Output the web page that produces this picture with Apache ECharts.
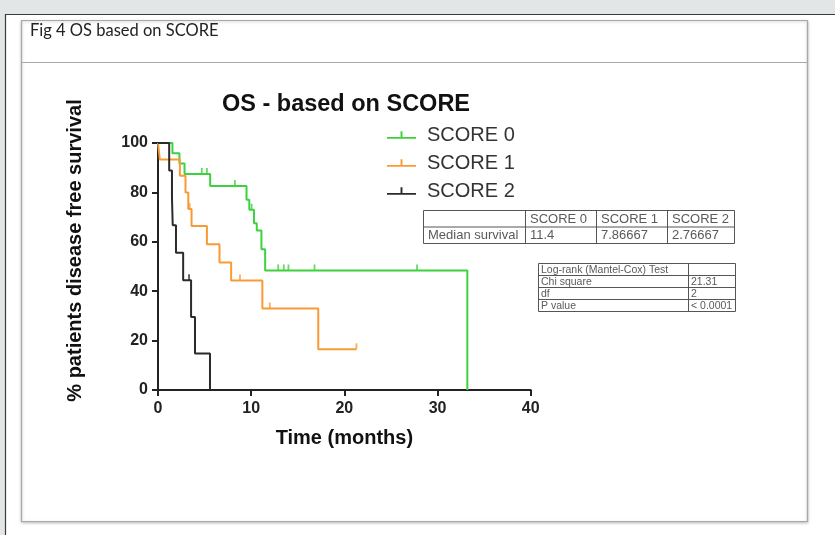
<!DOCTYPE html>
<html>
<head>
<meta charset="utf-8">
<script src="https://cdn.jsdelivr.net/npm/echarts@6/dist/echarts.min.js"></script>
<style>
  html, body { margin: 0; padding: 0; background: #fff; }
  #chart { width: 835px; height: 535px; }
</style>
</head>
<body>
<div id="chart"></div>
<script>
// Kaplan-Meier overall survival by SCORE group (time in months, survival in %)
const score0Time = [0, 1.55, 2.3, 2.85, 5.6, 9.5, 9.8, 10.3, 10.6, 11.1, 11.5, 33.2];
const score0Surv = [100, 95.8, 91.7, 87.5, 82.6, 77.0, 73.0, 67.5, 64.6, 57.0, 48.4, 0];
const score0CensorTime = [4.7, 5.25, 8.25, 10.05, 12.9, 13.5, 14.0, 16.8, 27.8];
const score0CensorSurv = [87.5, 87.5, 82.6, 73.0, 48.4, 48.4, 48.4, 48.4, 48.4];

const score1Time = [0, 0.2, 2.35, 2.95, 3.25, 3.6, 5.25, 6.6, 7.85, 11.2, 17.2, 21.3];
const score1Surv = [100, 93.3, 86.7, 80.0, 73.3, 66.4, 59.0, 51.6, 44.3, 33.0, 16.5, 16.5];
const score1CensorTime = [3.4, 8.8, 12.0, 21.3];
const score1CensorSurv = [73.3, 44.3, 33.0, 16.5];

const score2Time = [0, 1.2, 1.5, 1.58, 1.93, 2.7, 3.55, 3.97, 5.58];
const score2Surv = [100, 88.9, 77.8, 66.7, 55.6, 44.4, 29.6, 14.8, 0];
const score2CensorTime = [3.33];
const score2CensorSurv = [44.4];

const groupNames = ['SCORE 0', 'SCORE 1', 'SCORE 2'];
const groupColors = ['#3dd23d', '#f99a36', '#2b2b2b'];

const xTicks = [0, 10, 20, 30, 40];
const yTicks = [0, 20, 40, 60, 80, 100];

// Summary tables printed beside the curves
const medianHeader = ['', 'SCORE 0', 'SCORE 1', 'SCORE 2'];
const medianRow = ['Median survival', '11.4', '7.86667', '2.76667'];
const logRankLabels = ['Log-rank (Mantel-Cox) Test', 'Chi square', 'df', 'P value'];
const logRankValues = ['', '21.31', '2', '< 0.0001'];

const zip = (a, b) => a.map((v, i) => [v, b[i]]);

const curves = [
  { t: score0Time, s: score0Surv, ct: score0CensorTime, cs: score0CensorSurv },
  { t: score1Time, s: score1Surv, ct: score1CensorTime, cs: score1CensorSurv },
  { t: score2Time, s: score2Surv, ct: score2CensorTime, cs: score2CensorSurv }
];

const series = [];
curves.forEach((c, i) => {
  series.push({
    name: groupNames[i],
    type: 'line',
    step: 'end',
    data: zip(c.t, c.s),
    showSymbol: false,
    symbol: 'none',
    lineStyle: { color: groupColors[i], width: 2 },
    itemStyle: { color: groupColors[i] },
    z: 3 + i,
    silent: true
  });
  series.push({
    name: groupNames[i] + ' censored',
    type: 'scatter',
    data: zip(c.ct, c.cs),
    symbol: 'rect',
    symbolSize: [1.8, 6],
    symbolOffset: [0, -3],
    itemStyle: { color: groupColors[i] },
    z: 3 + i,
    silent: true
  });
});

const FONT = '"Liberation Sans", Arial, sans-serif';
const tickIcon = 'path://M0,9h30v2h-30z M14,3h2v7h-2z';

// Page frame and tables
const graphic = [
  { type: 'rect', shape: { x: 0, y: 0, width: 835, height: 14 }, style: { fill: '#e3e6e7' }, z: 0 },
  { type: 'rect', shape: { x: 0, y: 0, width: 5, height: 535 }, style: { fill: '#e3e6e7' }, z: 0 },
  { type: 'line', shape: { x1: 5, y1: 14.5, x2: 835, y2: 14.5 }, style: { stroke: '#3a3a3a', lineWidth: 1.2 }, z: 1 },
  { type: 'line', shape: { x1: 5.5, y1: 14, x2: 5.5, y2: 535 }, style: { stroke: '#3a3a3a', lineWidth: 1.2 }, z: 1 },
  { type: 'rect', shape: { x: 21.5, y: 20.5, width: 786, height: 501 },
    style: { fill: '#fff', stroke: '#a8a8a8', lineWidth: 1.2, shadowBlur: 3, shadowColor: 'rgba(0,0,0,0.25)', shadowOffsetY: 1 }, z: 0 },
  { type: 'line', shape: { x1: 21.5, y1: 62.5, x2: 807.5, y2: 62.5 }, style: { stroke: '#a8a8a8', lineWidth: 1.2 }, z: 1 },
  { type: 'text', x: 30, y: 31, style: { text: 'Fig 4 OS based on SCORE', fontFamily: 'Lato, sans-serif', fontSize: 16.5, fill: '#222', verticalAlign: 'middle' }, z: 2 }
];

// Median survival table
const mLeft = 423, mTop = 210, mRowH = 16.5, mCols = [423, 525, 596, 667, 734];
graphic.push({ type: 'rect', shape: { x: mLeft + 0.5, y: mTop + 0.5, width: mCols[4] - mLeft, height: mRowH * 2 },
  style: { fill: '#fff', stroke: '#555', lineWidth: 1 }, z: 2 });
graphic.push({ type: 'line', shape: { x1: mLeft, y1: mTop + mRowH + 0.5, x2: mCols[4], y2: mTop + mRowH + 0.5 }, style: { stroke: '#555', lineWidth: 1 }, z: 2 });
for (let k = 1; k < 4; k++) {
  graphic.push({ type: 'line', shape: { x1: mCols[k] + 0.5, y1: mTop, x2: mCols[k] + 0.5, y2: mTop + 2 * mRowH }, style: { stroke: '#555', lineWidth: 1 }, z: 2 });
}
[medianHeader, medianRow].forEach((row, r) => {
  row.forEach((txt, k) => {
    if (!txt) return;
    graphic.push({ type: 'text', x: mCols[k] + 5, y: mTop + mRowH * r + mRowH / 2 + 1,
      style: { text: txt, fontFamily: FONT, fontSize: 13, fill: '#5a5a5a', verticalAlign: 'middle' }, z: 3 });
  });
});

// Log-rank test table
const lLeft = 538, lTop = 263, lRowH = 12, lSep = 688, lRight = 735;
graphic.push({ type: 'rect', shape: { x: lLeft + 0.5, y: lTop + 0.5, width: lRight - lLeft, height: lRowH * 4 },
  style: { fill: '#fff', stroke: '#555', lineWidth: 1 }, z: 2 });
for (let r = 1; r < 4; r++) {
  graphic.push({ type: 'line', shape: { x1: lLeft, y1: lTop + lRowH * r + 0.5, x2: lRight, y2: lTop + lRowH * r + 0.5 }, style: { stroke: '#555', lineWidth: 1 }, z: 2 });
}
graphic.push({ type: 'line', shape: { x1: lSep + 0.5, y1: lTop, x2: lSep + 0.5, y2: lTop + lRowH * 4 }, style: { stroke: '#555', lineWidth: 1 }, z: 2 });
logRankLabels.forEach((txt, r) => {
  graphic.push({ type: 'text', x: lLeft + 3, y: lTop + lRowH * r + lRowH / 2 + 1,
    style: { text: txt, fontFamily: FONT, fontSize: 10.5, fill: '#5a5a5a', verticalAlign: 'middle' }, z: 3 });
  if (logRankValues[r]) {
    graphic.push({ type: 'text', x: lSep + 3, y: lTop + lRowH * r + lRowH / 2 + 1,
      style: { text: logRankValues[r], fontFamily: FONT, fontSize: 10.5, fill: '#5a5a5a', verticalAlign: 'middle' }, z: 3 });
  }
});

const chart = echarts.init(document.getElementById('chart'));
chart.setOption({
  animation: false,
  backgroundColor: '#fff',
  textStyle: { fontFamily: FONT },
  title: {
    text: 'OS - based on SCORE',
    left: 341, top: 88, textAlign: 'center',
    textStyle: { fontFamily: FONT, fontSize: 23.5, fontWeight: 'bold', color: '#111' }
  },
  legend: {
    orient: 'vertical',
    left: 382, top: 120,
    itemWidth: 29, itemHeight: 11, itemGap: 8,
    data: groupNames.map((n, i) => ({ name: n, icon: tickIcon, itemStyle: { color: groupColors[i] } })),
    textStyle: { fontFamily: FONT, fontSize: 20, color: '#333', padding: [0, 0, 0, 6] },
    selectedMode: false
  },
  grid: { left: 158, top: 143, width: 372.7, height: 247, containLabel: false },
  xAxis: {
    type: 'value', min: xTicks[0], max: xTicks[xTicks.length - 1], interval: 10,
    name: 'Time (months)', nameLocation: 'middle', nameGap: 38,
    nameTextStyle: { fontFamily: FONT, fontSize: 20, fontWeight: 'bold', color: '#111' },
    axisLine: { lineStyle: { color: '#222', width: 2 } },
    axisTick: { show: true, length: 6, lineStyle: { color: '#222', width: 2 } },
    axisLabel: { fontFamily: FONT, fontSize: 16, fontWeight: 'bold', color: '#222', margin: 11 },
    splitLine: { show: false }
  },
  yAxis: {
    type: 'value', min: yTicks[0], max: yTicks[yTicks.length - 1], interval: 20,
    name: '% patients disease free survival', nameLocation: 'middle', nameGap: 73, nameRotate: 90,
    nameTextStyle: { fontFamily: FONT, fontSize: 20, fontWeight: 'bold', color: '#111', padding: [0, 0, 0, 32] },
    axisLine: { show: true, lineStyle: { color: '#222', width: 2 } },
    axisTick: { show: true, length: 6, lineStyle: { color: '#222', width: 2 } },
    axisLabel: { fontFamily: FONT, fontSize: 16, fontWeight: 'bold', color: '#222', margin: 10 },
    splitLine: { show: false }
  },
  graphic: graphic,
  series: series
});
</script>
</body>
</html>
